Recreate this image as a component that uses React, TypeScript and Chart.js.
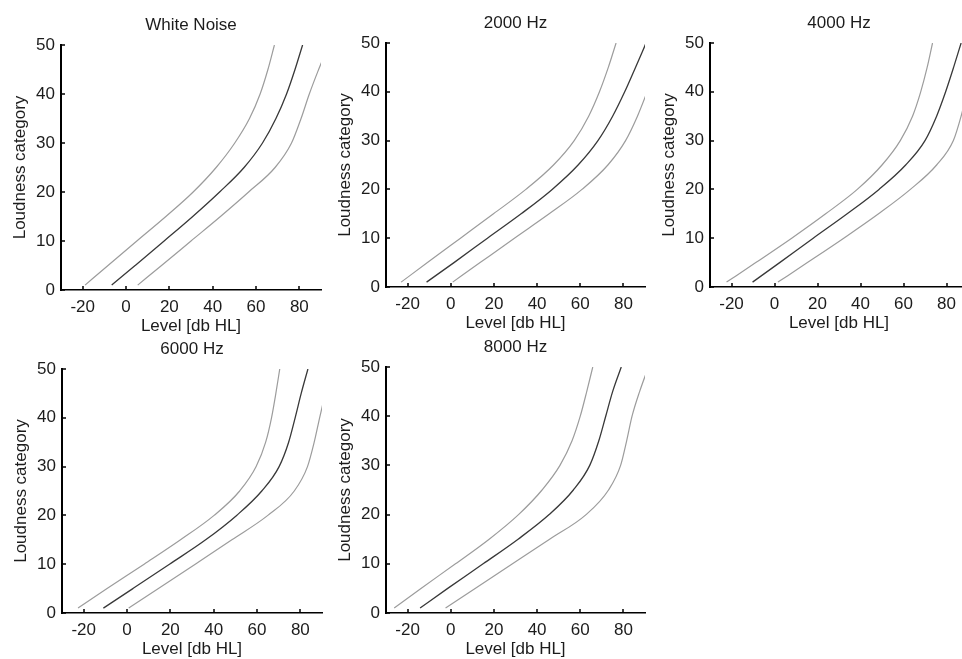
import React, { useEffect, useRef } from "react";
import { Chart, registerables } from "chart.js";

Chart.register(...registerables);

// Loudness categories (y) at which each curve's level (x, dB HL) is read
const LOUDNESS = [1, 5, 10, 15, 20, 25, 30, 35, 40, 45, 50];
const X_TICKS = [-20, 0, 20, 40, 60, 80];
const Y_TICKS = [0, 10, 20, 30, 40, 50];

const whiteNoiseLeft = [-18.9, -8.3, 5.0, 18.4, 31.0, 41.6, 50.2, 57.0, 61.9, 65.5, 68.5];
const whiteNoiseMedian = [-6.6, 4.2, 17.6, 30.8, 43.2, 54.5, 63.0, 69.2, 74.1, 78.0, 81.5];
const whiteNoiseRight = [5.4, 16.4, 30.0, 43.6, 56.6, 68.8, 76.4, 80.8, 84.6, 88.9, 93.5];

const hz2000Left = [-23, -10.8, 4.5, 19.8, 34.8, 47.6, 57.2, 63.9, 68.9, 73.0, 76.6];
const hz2000Median = [-11.2, 1.5, 17.0, 32.6, 47.0, 59.0, 68.2, 75.0, 80.6, 85.6, 90.5];
const hz2000Right = [0.9, 13.6, 29.5, 45.6, 60.8, 72.8, 81.0, 86.5, 91.0, 95.2, 99.2];

const hz4000Left = [-22.3, -8.7, 8.0, 23.8, 38.5, 50.0, 58.5, 64.2, 68.0, 71.0, 73.5];
const hz4000Median = [-10.2, 2.4, 18.0, 33.8, 48.6, 61.0, 70.0, 75.4, 79.6, 83.3, 86.8];
const hz4000Right = [1.6, 15.3, 32.2, 48.4, 63.2, 75.4, 83.2, 86.8, 89.6, 92.4, 95.4];

const hz6000Left = [-22.6, -9.2, 7.9, 24.7, 40.2, 52.0, 59.6, 64.0, 66.7, 68.7, 70.5];
const hz6000Median = [-10.9, 2.7, 19.6, 36.3, 50.6, 62.2, 70.2, 74.6, 77.6, 80.4, 83.5];
const hz6000Right = [0.8, 14.5, 31.5, 48.4, 65.0, 77.2, 83.3, 86.4, 88.9, 91.5, 94];

const hz8000Left = [-26.2, -13.8, 2.2, 17.8, 31.4, 42.3, 50.6, 56.2, 60.0, 63.0, 65.8];
const hz8000Median = [-14.2, -1.4, 15.0, 31.2, 45.6, 56.8, 64.4, 68.6, 71.8, 75.0, 79.0];
const hz8000Right = [-2.4, 11.3, 28.6, 45.8, 62.7, 73.1, 78.7, 81.5, 84, 87.5, 91.6];

const TITLES = ["White Noise", "2000 Hz", "4000 Hz", "6000 Hz", "8000 Hz"];
const SERIES = [
  [whiteNoiseLeft, whiteNoiseMedian, whiteNoiseRight],
  [hz2000Left, hz2000Median, hz2000Right],
  [hz4000Left, hz4000Median, hz4000Right],
  [hz6000Left, hz6000Median, hz6000Right],
  [hz8000Left, hz8000Median, hz8000Right],
];

// Plot-area boxes (layout only): left, top, width, height
const BOXES = [
  { l: 61, t: 45, w: 260, h: 245 },
  { l: 386, t: 43, w: 259, h: 244 },
  { l: 710, t: 43, w: 258, h: 244 },
  { l: 62, t: 369, w: 260, h: 244 },
  { l: 386, t: 367, w: 259, h: 246 },
];

const Y_AXIS_W = 61;
const X_AXIS_H = 47;
const TITLE_H = 45;
const RIGHT_PAD = 10;

const FONT_FAMILY = '"Liberation Sans", Arial, Helvetica, sans-serif';
const TEXT_COLOR = "#1c1c1c";
const MEDIAN_COLOR = "#383838";
const SIDE_COLOR = "#9c9c9c";

const innerTicks = {
  id: "innerTicks",
  afterDraw(chart: any) {
    const { ctx, chartArea } = chart;
    const xs = chart.scales.x;
    const ys = chart.scales.y;
    ctx.save();
    ctx.strokeStyle = "#000";
    ctx.lineWidth = 1.5;
    ctx.beginPath();
    xs.ticks.forEach((t: any) => {
      const px = Math.round(xs.getPixelForValue(t.value));
      ctx.moveTo(px, chartArea.bottom);
      ctx.lineTo(px, chartArea.bottom - 4);
    });
    ys.ticks.forEach((t: any) => {
      const py = Math.round(ys.getPixelForValue(t.value));
      ctx.moveTo(chartArea.left, py);
      ctx.lineTo(chartArea.left + 4, py);
    });
    ctx.stroke();
    ctx.restore();
  },
};

function Panel({ index }: { index: number }) {
  const ref = useRef<HTMLCanvasElement | null>(null);
  const box = BOXES[index];
  const cw = box.w + Y_AXIS_W + RIGHT_PAD;
  const ch = box.h + TITLE_H + X_AXIS_H;
  const left = box.l - Y_AXIS_W;
  const top = box.t - TITLE_H;

  useEffect(() => {
    if (!ref.current) return;
    const font = { family: FONT_FAMILY, size: 17, lineHeight: 1.2 };
    const chart = new Chart(ref.current, {
      type: "line",
      data: {
        datasets: SERIES[index].map((levels, i) => ({
          data: LOUDNESS.map((y, j) => ({ x: levels[j], y })),
          borderColor: i === 1 ? MEDIAN_COLOR : SIDE_COLOR,
          borderWidth: i === 1 ? 1.3 : 1.2,
          pointRadius: 0,
          fill: false,
          cubicInterpolationMode: "monotone" as const,
        })),
      },
      options: {
        responsive: false,
        animation: false,
        devicePixelRatio: 1,
        layout: { padding: { left: 0, right: RIGHT_PAD, top: 0, bottom: 0 } },
        plugins: {
          legend: { display: false },
          tooltip: { enabled: false },
          title: {
            display: true,
            text: TITLES[index],
            color: TEXT_COLOR,
            font: { ...font, weight: "normal" as const },
            padding: { top: 15.3, bottom: 9.3 },
            fullSize: false,
          },
        },
        scales: {
          x: {
            type: "linear",
            min: -30,
            max: 90,
            afterBuildTicks: (s: any) => {
              s.ticks = X_TICKS.map((v) => ({ value: v }));
            },
            afterFit: (s: any) => {
              s.height = X_AXIS_H;
            },
            grid: { display: true, drawOnChartArea: false, drawTicks: false, color: "rgba(0,0,0,0)" },
            border: { display: true, color: "#000", width: 1.5 },
            ticks: { color: TEXT_COLOR, font, padding: 7, maxRotation: 0, autoSkip: false },
            title: { display: true, text: "Level [db HL]", color: TEXT_COLOR, font, padding: 0 },
          },
          y: {
            type: "linear",
            min: 0,
            max: 50,
            afterBuildTicks: (s: any) => {
              s.ticks = Y_TICKS.map((v) => ({ value: v }));
            },
            afterFit: (s: any) => {
              s.width = Y_AXIS_W;
            },
            grid: { display: true, drawOnChartArea: false, drawTicks: false, color: "rgba(0,0,0,0)" },
            border: { display: true, color: "#000", width: 2 },
            ticks: { color: TEXT_COLOR, font, padding: 6, autoSkip: false },
            title: {
              display: true,
              text: "Loudness category",
              color: TEXT_COLOR,
              font,
              padding: { top: 10, bottom: 0 },
            },
          },
        },
      },
      plugins: [innerTicks],
    } as any);
    return () => chart.destroy();
  }, [index]);

  return (
    <canvas
      ref={ref}
      width={cw}
      height={ch}
      style={{ position: "absolute", left, top, width: cw, height: ch }}
    />
  );
}

export default function App() {
  return (
    <div
      style={{
        position: "fixed",
        left: 0,
        top: 0,
        width: 962,
        height: 659,
        overflow: "hidden",
        background: "#fff",
      }}
    >
      {TITLES.map((_, i) => (
        <Panel key={i} index={i} />
      ))}
    </div>
  );
}
